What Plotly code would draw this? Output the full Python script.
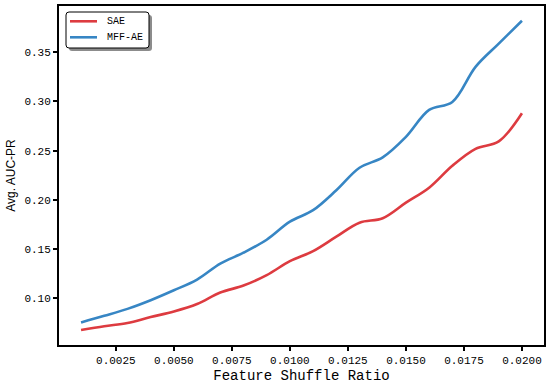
import plotly.graph_objects as go

ratios = [0.001, 0.002, 0.003, 0.004, 0.005, 0.006, 0.007, 0.008, 0.009, 0.010,
          0.011, 0.012, 0.013, 0.014, 0.015, 0.016, 0.017, 0.018, 0.019, 0.020]
sae = [0.0677, 0.0716, 0.0748, 0.0809, 0.0865, 0.0941, 0.1058, 0.1129, 0.1235, 0.1377,
       0.1479, 0.1626, 0.1768, 0.1813, 0.1971, 0.2123, 0.2346, 0.2518, 0.2594, 0.2880]
mff_ae = [0.0754, 0.0821, 0.0892, 0.0980, 0.1081, 0.1190, 0.1352, 0.1463, 0.1595, 0.1778,
          0.1895, 0.2097, 0.2326, 0.2432, 0.2640, 0.2914, 0.2995, 0.3352, 0.3588, 0.3820]
x_ticks = [0.0025, 0.0050, 0.0075, 0.0100, 0.0125, 0.0150, 0.0175, 0.0200]
y_ticks = [0.10, 0.15, 0.20, 0.25, 0.30, 0.35]
series_names = ["SAE", "MFF-AE"]
series_colors = ["#dd3b40", "#3786c4"]

MONO = "Liberation Mono, DejaVu Sans Mono, monospace"
W, H = 550, 389
ML, MR, MT, MB = 59, 6, 6, 44
PW, PH = W - ML - MR, H - MT - MB


def px(x):
    return (x - ML) / PW


def py(y):
    return (H - MB - y) / PH


fig = go.Figure()
for name, vals, col in zip(series_names, [sae, mff_ae], series_colors):
    fig.add_trace(go.Scatter(x=ratios, y=vals, mode="lines", name=name, showlegend=False,
                             line=dict(color=col, width=2.6, shape="spline", smoothing=1.0)))

axis_common = dict(showgrid=False, zeroline=False, showline=True, linecolor="black",
                   linewidth=2, mirror=True, ticks="outside", ticklen=4, tickwidth=1.5,
                   tickcolor="black", automargin=False,
                   tickfont=dict(family=MONO, size=11, color="black"))

fig.update_xaxes(range=[0.00005, 0.02095], tickvals=x_ticks,
                 ticktext=[f"{v:.4f}" for v in x_ticks],
                 title=dict(text="Feature Shuffle Ratio",
                            font=dict(family=MONO, size=14, color="black"), standoff=4),
                 **axis_common)
fig.update_yaxes(range=[0.0525, 0.397], tickvals=y_ticks,
                 ticktext=[f"{v:.2f}" for v in y_ticks],
                 title=dict(text="Avg. AUC-PR",
                            font=dict(family="Liberation Sans, Arial, sans-serif", size=12, color="black"),
                            standoff=6),
                 **axis_common)


def rounded_rect(x0, y0, x1, y1, r=3):
    rx, ry = r / PW, r / PH
    X0, X1 = px(x0), px(x1)
    Yt, Yb = py(y0), py(y1)
    return (f"M {X0+rx},{Yt} L {X1-rx},{Yt} Q {X1},{Yt} {X1},{Yt-ry} "
            f"L {X1},{Yb+ry} Q {X1},{Yb} {X1-rx},{Yb} L {X0+rx},{Yb} "
            f"Q {X0},{Yb} {X0},{Yb+ry} L {X0},{Yt-ry} Q {X0},{Yt} {X0+rx},{Yt} Z")


# legend (drawn manually to match matplotlib's compact fancybox with shadow)
fig.add_shape(type="path", xref="paper", yref="paper", path=rounded_rect(69, 15, 152, 51),
              fillcolor="rgba(0,0,0,0.45)", line=dict(width=0))
fig.add_shape(type="path", xref="paper", yref="paper", path=rounded_rect(66, 12, 149, 48),
              fillcolor="white", line=dict(color="black", width=1))
for i, (name, col) in enumerate(zip(series_names, series_colors)):
    yy = 21.3 + 16 * i
    fig.add_shape(type="line", xref="paper", yref="paper", x0=px(70), x1=px(97),
                  y0=py(yy), y1=py(yy), line=dict(color=col, width=2.6))
    fig.add_annotation(xref="paper", yref="paper", x=px(105), y=py(yy), text=name,
                       showarrow=False, xanchor="left", yanchor="middle",
                       font=dict(family=MONO, size=10, color="black"))

fig.update_layout(
    width=W, height=H,
    margin=dict(l=ML, r=MR, t=MT, b=MB),
    paper_bgcolor="white", plot_bgcolor="white",
    showlegend=False,
)

fig.write_html("out.html", config={"displayModeBar": False},
               post_script="document.body.style.margin='0';document.body.style.padding='0';")
